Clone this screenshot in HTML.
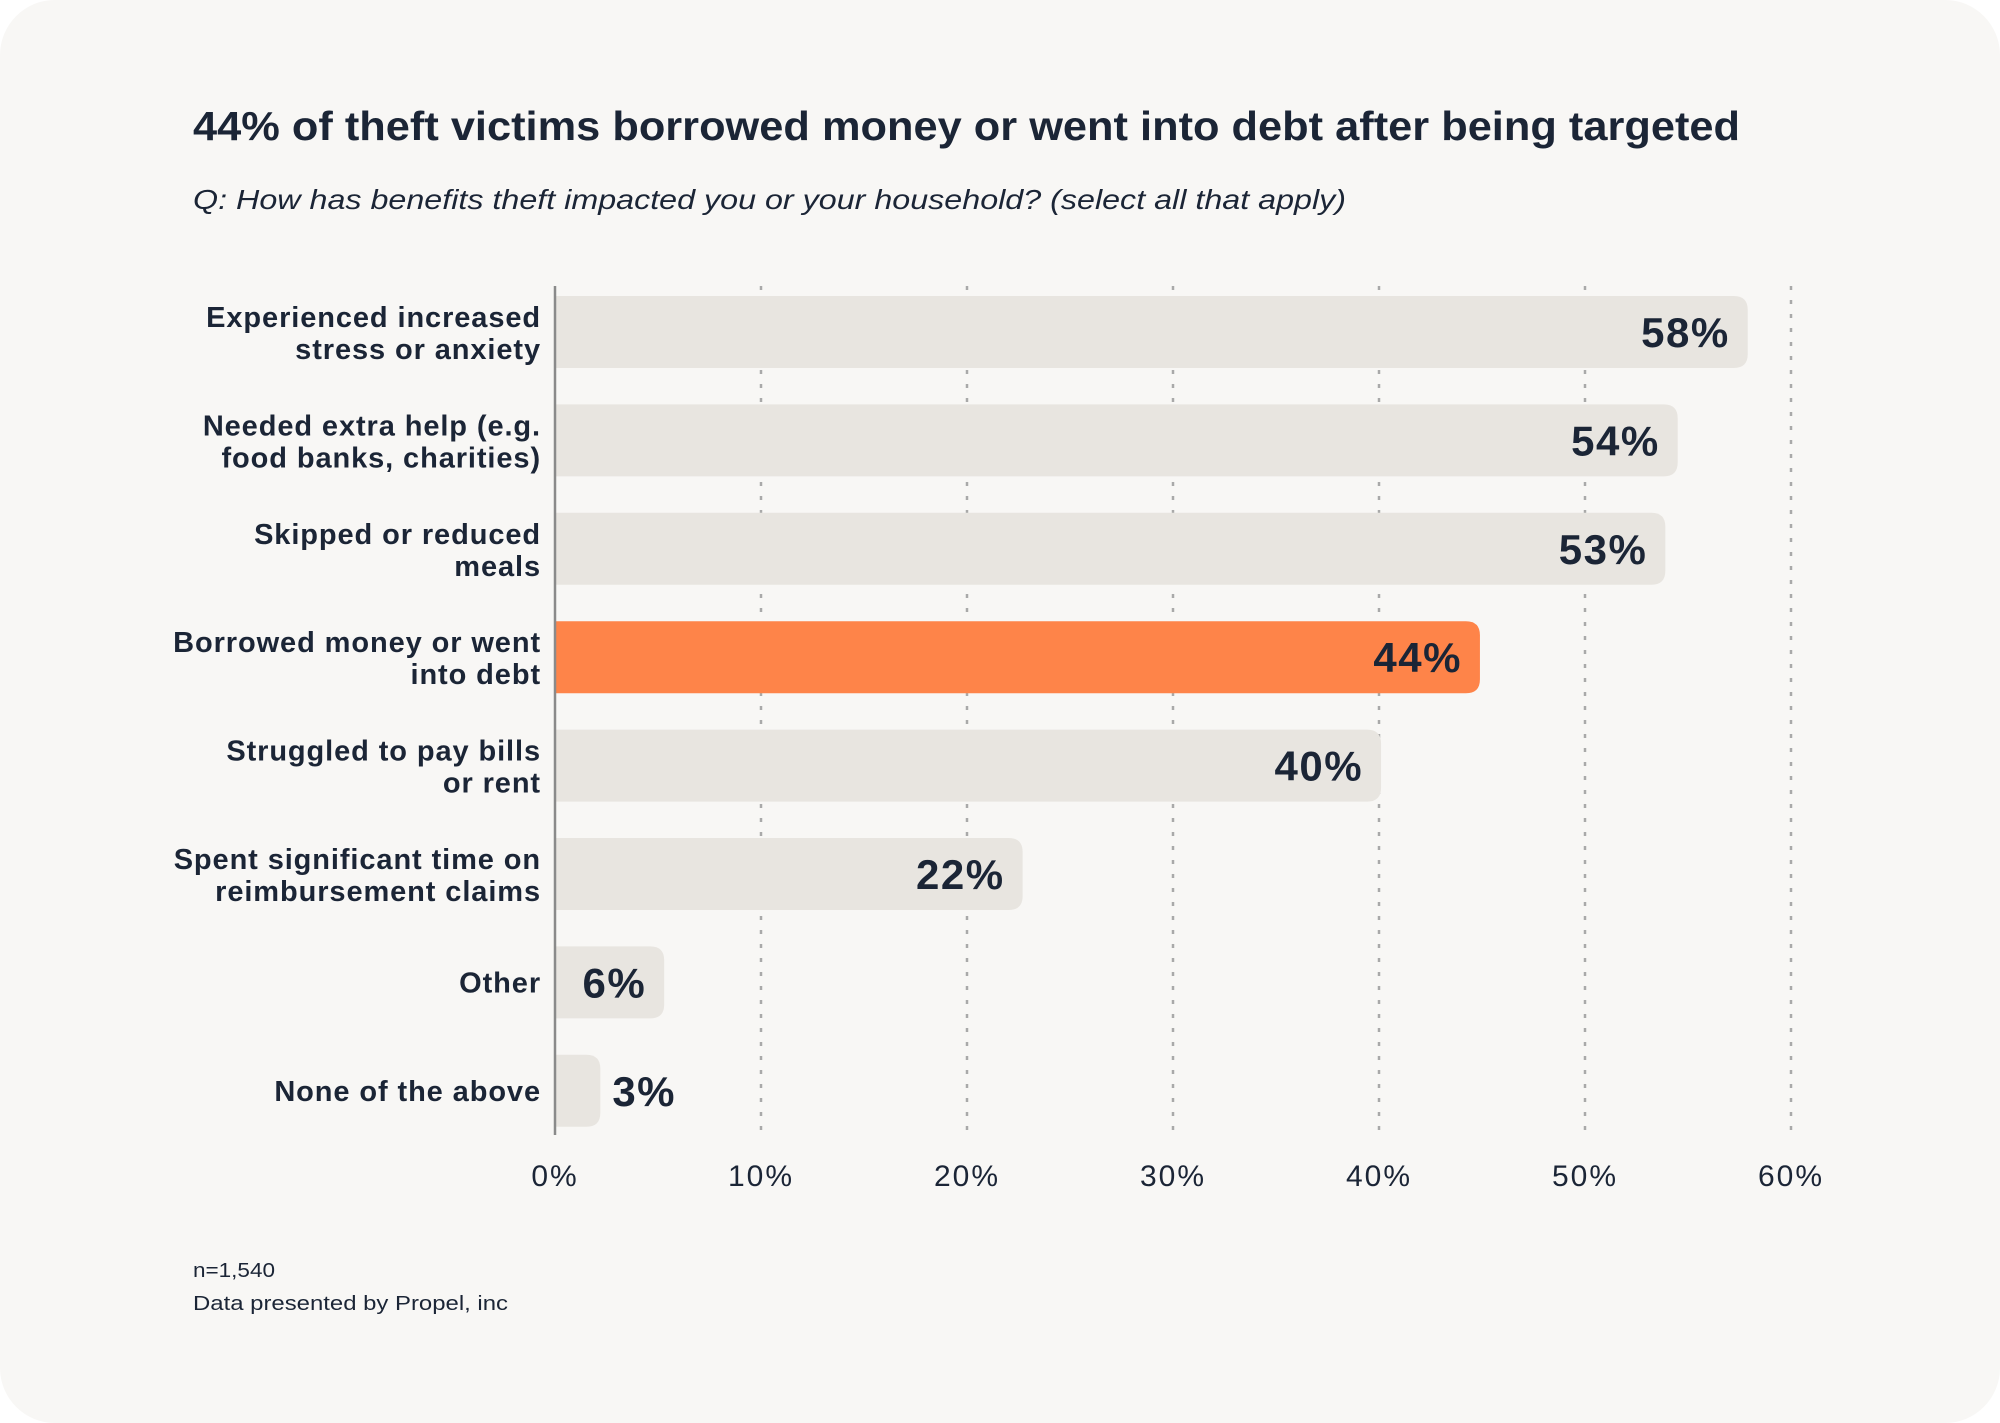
<!DOCTYPE html>
<html><head><meta charset="utf-8">
<style>
html,body{margin:0;padding:0;background:#ffffff;}
svg{display:block;font-family:"Liberation Sans",sans-serif;}
</style></head>
<body>
<svg id="chart" width="2000" height="1423" viewBox="0 0 2000 1423">
  <rect x="0" y="0" width="2000" height="1423" rx="55" fill="#f8f7f5"/>
  <text x="193" y="140" font-size="41" font-weight="bold" fill="#1b2536" textLength="1547" lengthAdjust="spacingAndGlyphs">44% of theft victims borrowed money or went into debt after being targeted</text>
  <text x="193" y="209" font-size="28" font-style="italic" fill="#1b2536" textLength="1153" lengthAdjust="spacingAndGlyphs">Q: How has benefits theft impacted you or your household? (select all that apply)</text>
  <g id="grid"></g>
  <g id="bars"></g>
  <g id="ticks"></g>
  <text x="193" y="1277" font-size="20" fill="#1b2536" textLength="82" lengthAdjust="spacingAndGlyphs">n=1,540</text>
  <text x="193" y="1310" font-size="20" fill="#1b2536" textLength="315" lengthAdjust="spacingAndGlyphs">Data presented by Propel, inc</text>
</svg>
<script>
const categories = [
  ["Experienced increased","stress or anxiety"],
  ["Needed extra help (e.g.","food banks, charities)"],
  ["Skipped or reduced","meals"],
  ["Borrowed money or went","into debt"],
  ["Struggled to pay bills","or rent"],
  ["Spent significant time on","reimbursement claims"],
  ["Other"],
  ["None of the above"]
];
const values = [57.9, 54.5, 53.9, 44.9, 40.1, 22.7, 5.3, 2.2];
const valueLabels = ["58%","54%","53%","44%","40%","22%","6%","3%"];
const highlight = [false,false,false,true,false,false,false,false];
const tickValues = [0,10,20,30,40,50,60];
const tickLabels = ["0%","10%","20%","30%","40%","50%","60%"];

const NS = "http://www.w3.org/2000/svg";
const x0 = 555, pxPer = 20.6;
const xScale = v => x0 + v * pxPer;
const yTop = 286, yBot = 1135;
const firstCenter = 332, step = 108.4, barH = 72;
const yScale = i => firstCenter + i * step;
function mk(tag, attrs, parent){const e=document.createElementNS(NS,tag);for(const k in attrs)e.setAttribute(k,attrs[k]);parent.appendChild(e);return e;}

const grid = document.getElementById('grid');
tickValues.forEach((t,i)=>{
  if(t===0) return;
  const l = mk('line',{x1:xScale(t),x2:xScale(t),y1:yTop,y2:yBot,stroke:'#a9a9a9','stroke-width':2.5,'stroke-dasharray':'4 10'},grid);
  
  
});

const bars = document.getElementById('bars');
values.forEach((v,i)=>{
  const cy = yScale(i);
  const w = xScale(v)-x0;
  const r = mk('path',{d:`M${x0} ${cy-barH/2} H${x0+w-14} Q${x0+w} ${cy-barH/2} ${x0+w} ${cy-barH/2+14} V${cy+barH/2-14} Q${x0+w} ${cy+barH/2} ${x0+w-14} ${cy+barH/2} H${x0} Z`,fill:highlight[i]?'#fe8449':'#e8e5e0'},bars);
  
  
  const lines = categories[i];
  lines.forEach((ln,j)=>{
    const y = lines.length===1 ? cy+10 : cy-5+j*32;
    const t = mk('text',{x:541,y:y,'text-anchor':'end','font-size':29,'font-weight':'bold','letter-spacing':0.9,fill:'#1b2536'},bars);
    t.textContent = ln;
    
    
  });
  const end = xScale(v);
  const inside = w > 80;
  const vl = mk('text',{x:inside?end-18:end+12,y:cy+15,'text-anchor':inside?'end':'start','font-size':42,'font-weight':'bold','letter-spacing':1.5,fill:'#1b2536'},bars);
  vl.textContent = valueLabels[i];
  
  
});
const axis = mk('line',{x1:x0,x2:x0,y1:yTop,y2:yBot,stroke:'#8a8a8a','stroke-width':2.5},bars);



const ticks = document.getElementById('ticks');
tickValues.forEach((t,i)=>{
  const tx = mk('text',{x:xScale(t),y:1186,'text-anchor':'middle','font-size':30,'letter-spacing':2,fill:'#1b2536'},ticks);
  tx.textContent = tickLabels[i];
  
  
});
</script>
</body></html>
